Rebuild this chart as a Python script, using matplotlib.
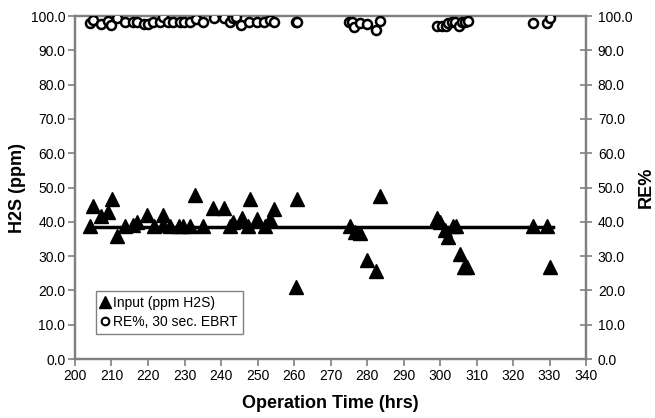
import matplotlib
matplotlib.use("Agg")
import matplotlib.pyplot as plt
from matplotlib.lines import Line2D

plt.rcParams['font.family'] = ['Liberation Sans', 'DejaVu Sans']

# Input H2S (ppm) vs operation time (hrs)
input_time = [204.1, 204.9, 207.1, 209.0, 210.1, 211.5, 213.7, 215.9, 217.0, 219.7,
              221.6, 224.1, 224.1, 226.0, 228.5, 229.6, 231.5, 232.9, 235.1, 237.8,
              240.8, 242.5, 243.3, 245.8, 247.9, 247.4, 249.9, 252.1, 253.4, 254.5,
              260.8, 260.5, 275.3, 276.7, 278.1, 280.0, 282.5, 283.6, 299.2, 300.0,
              301.4, 302.2, 303.6, 304.4, 305.5, 306.6, 307.4, 325.5, 329.3, 330.1]
input_ppm = [38.8, 44.6, 41.7, 42.9, 46.6, 35.9, 38.8, 39.1, 39.9, 42.0,
             38.8, 42.0, 39.1, 38.8, 38.8, 38.8, 38.8, 47.8, 38.8, 44.0,
             44.0, 38.8, 39.9, 41.1, 46.6, 38.8, 40.8, 38.8, 40.8, 43.7,
             46.6, 21.0, 38.8, 37.0, 36.7, 28.9, 25.7, 47.5, 41.1, 40.0,
             37.6, 35.6, 38.8, 38.8, 30.6, 26.8, 26.8, 38.8, 38.8, 26.8]

# Removal efficiency (%)
re_time = [204.0, 205.0, 207.0, 209.0, 210.0, 211.5, 213.7, 216.0, 217.0, 219.0,
           220.0, 221.4, 223.3, 224.1, 225.5, 226.8, 228.8, 229.9, 231.5, 233.2,
           235.1, 238.1, 240.8, 242.5, 243.3, 244.1, 245.5, 247.7, 249.9, 251.8,
           253.4, 254.5, 260.5, 260.8, 275.1, 275.9, 276.4, 278.1, 280.0, 282.5,
           283.6, 299.2, 300.5, 301.6, 302.2, 303.3, 304.1, 305.2, 306.0, 306.8,
           307.7, 325.5, 329.3, 330.1]
re_pct = [98.0, 98.8, 97.7, 98.5, 97.4, 99.4, 98.3, 98.3, 98.3, 97.7,
          97.7, 98.3, 98.3, 99.7, 98.3, 98.3, 98.3, 98.3, 98.3, 99.1,
          98.3, 99.4, 99.4, 98.3, 99.4, 99.8, 97.4, 98.3, 98.3, 98.3,
          98.8, 98.3, 98.3, 98.3, 98.3, 98.3, 96.8, 98.0, 97.7, 95.9,
          98.5, 97.1, 97.1, 97.1, 98.0, 98.3, 98.3, 97.1, 98.3, 98.3,
          98.5, 98.0, 98.0, 99.4]

# Average input line
avg_time = [204, 331]
avg_ppm = [38.5, 38.5]

x_ticks = list(range(200, 341, 10))
y_ticks = [0, 10, 20, 30, 40, 50, 60, 70, 80, 90, 100]

fig = plt.figure(figsize=(6.55, 4.18), dpi=100)
ax = fig.add_axes([0.1145, 0.1411, 0.7802, 0.8206])
ax2 = ax.twinx()

spine_c = '#808080'
for a in (ax, ax2):
    for s in a.spines.values():
        s.set_color(spine_c)
        s.set_linewidth(1.6)
    a.set_ylim(0, 100)
    a.set_yticks(y_ticks)
    a.set_yticklabels([f"{v:.1f}" for v in y_ticks], fontsize=10)

ax.set_xlim(200, 340)
ax.set_xticks(x_ticks)
ax.set_xticklabels([str(v) for v in x_ticks], fontsize=10)
ax.tick_params(axis='both', direction='out', length=5, width=1.2, color=spine_c, pad=2)
ax2.tick_params(axis='y', direction='inout', length=9, width=1.2, color=spine_c, pad=4)

ax.plot(avg_time, avg_ppm, color='black', lw=2.5, zorder=2)
ax.plot(input_time, input_ppm, linestyle='none', marker='^', markersize=10,
        color='black', zorder=3)
ax2.plot(re_time, re_pct, linestyle='none', marker='o', markersize=6.5,
         markerfacecolor='white', markeredgecolor='black', markeredgewidth=1.8,
         zorder=3)

ax.set_xlabel("Operation Time (hrs)", fontsize=13, fontweight='bold', labelpad=9)
ax.set_ylabel("H2S (ppm)", fontsize=13, fontweight='bold', labelpad=3)
ax2.set_ylabel("RE%", fontsize=13, fontweight='bold', labelpad=4)

handles = [Line2D([], [], linestyle='none', marker='^', markersize=9, color='black'),
           Line2D([], [], linestyle='none', marker='o', markersize=5.5,
                  markerfacecolor='white', markeredgecolor='black', markeredgewidth=1.5)]
leg = ax2.legend(handles, ["Input (ppm H2S)", "RE%, 30 sec. EBRT"],
                 loc='lower left', bbox_to_anchor=(0.041, 0.073), borderaxespad=0,
                 fontsize=10, fancybox=False, framealpha=1, edgecolor=spine_c,
                 handlelength=0.6, handletextpad=0.3, borderpad=0.35,
                 labelspacing=0.4)
leg.get_frame().set_linewidth(1.0)

fig.savefig("out.png", dpi=100)
